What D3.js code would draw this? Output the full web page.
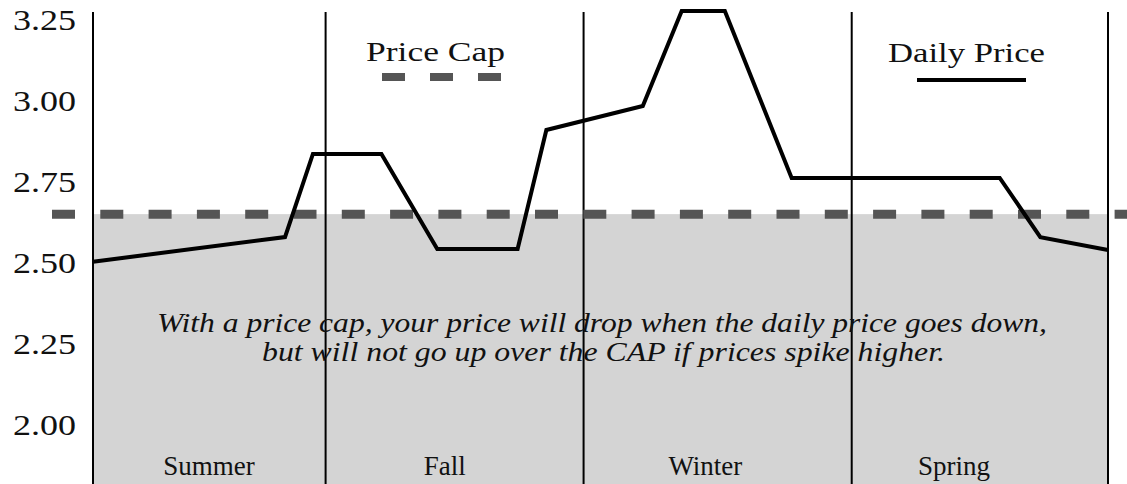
<!DOCTYPE html>
<html>
<head>
<meta charset="utf-8">
<script src="https://cdn.jsdelivr.net/npm/d3@7"></script>
<style>
  body { margin: 0; background: #fff; }
</style>
</head>
<body>
<div id="chart"></div>
<script>
// months since start of summer, and the daily price
var months = [0, 2.27, 2.60, 3.41, 4.07, 5.02, 5.36, 6.50, 6.96, 7.47, 8.26, 10.72, 11.20, 12];
var dailyPrice = [2.50, 2.576, 2.833, 2.833, 2.539, 2.539, 2.907, 2.981, 3.275, 3.275, 2.759, 2.759, 2.576, 2.536];
var priceCap = 2.647;

var seasons = ['Summer', 'Fall', 'Winter', 'Spring'];
var seasonBounds = [0, 2.75, 5.8, 8.97, 12];
var seasonLabelAt = [1.37, 4.16, 7.24, 10.18];

var yTicks = [3.25, 3.00, 2.75, 2.50, 2.25, 2.00];

var width = 1127;
var height = 484;
var serif = 'Liberation Serif, Times New Roman, serif';

var svg = d3.select('#chart')
    .append('svg')
    .attr('width', width)
    .attr('height', height);

var x = d3.scaleLinear()
    .domain([0, 12])
    .range([93, 1108]);

var y = d3.scaleLinear()
    .domain([2.00, 3.25])
    .range([423.5, 19]);

// grey area under the cap
svg.append('rect')
    .attr('x', x(0))
    .attr('y', y(priceCap))
    .attr('width', x(12) - x(0))
    .attr('height', height - y(priceCap))
    .attr('fill', '#d4d4d4');

// y labels
svg.append('g')
    .selectAll('text')
    .data(yTicks)
    .enter()
    .append('text')
    .attr('x', 76)
    .attr('y', (d) => y(d) + 11)
    .attr('text-anchor', 'end')
    .attr('font-family', serif)
    .attr('font-size', 30)
    .attr('textLength', 63)
    .attr('lengthAdjust', 'spacingAndGlyphs')
    .attr('fill', '#111')
    .text((d) => d.toFixed(2));

// season dividers
svg.append('g')
    .selectAll('line')
    .data(seasonBounds)
    .enter()
    .append('line')
    .attr('x1', (d) => x(d))
    .attr('x2', (d) => x(d))
    .attr('y1', 12)
    .attr('y2', height)
    .attr('stroke', '#000')
    .attr('stroke-width', 2);

// season names
svg.append('g')
    .selectAll('text')
    .data(seasons)
    .enter()
    .append('text')
    .attr('x', (d, i) => x(seasonLabelAt[i]))
    .attr('y', 475)
    .attr('text-anchor', 'middle')
    .attr('font-family', serif)
    .attr('font-size', 27)
    .attr('fill', '#111')
    .text((d) => d);

// cap line
svg.append('line')
    .attr('x1', 52)
    .attr('x2', width)
    .attr('y1', y(priceCap))
    .attr('y2', y(priceCap))
    .attr('stroke', '#555')
    .attr('stroke-width', 9)
    .attr('stroke-dasharray', '23,25.3');

// daily price line
var line = d3.line()
    .x((d, i) => x(months[i]))
    .y((d) => y(d));

svg.append('path')
    .datum(dailyPrice)
    .attr('d', line)
    .attr('fill', 'none')
    .attr('stroke', '#000')
    .attr('stroke-width', 4)
    .attr('stroke-linejoin', 'miter');

// legend
svg.append('text')
    .attr('x', 366)
    .attr('y', 61)
    .attr('font-family', serif)
    .attr('font-size', 27)
    .attr('textLength', 139)
    .attr('lengthAdjust', 'spacingAndGlyphs')
    .attr('fill', '#111')
    .text('Price Cap');

svg.append('line')
    .attr('x1', 382)
    .attr('x2', 503)
    .attr('y1', 77)
    .attr('y2', 77)
    .attr('stroke', '#555')
    .attr('stroke-width', 8)
    .attr('stroke-dasharray', '23,25');

svg.append('text')
    .attr('x', 888)
    .attr('y', 62)
    .attr('font-family', serif)
    .attr('font-size', 27)
    .attr('textLength', 157)
    .attr('lengthAdjust', 'spacingAndGlyphs')
    .attr('fill', '#111')
    .text('Daily Price');

svg.append('line')
    .attr('x1', 917)
    .attr('x2', 1026)
    .attr('y1', 80)
    .attr('y2', 80)
    .attr('stroke', '#000')
    .attr('stroke-width', 4);

// note
var note = [
    {text: 'With a price cap, your price will drop when the daily price goes down,', x: 157, y: 332, len: 890},
    {text: 'but will not go up over the CAP if prices spike higher.', x: 262, y: 361, len: 683}
];

svg.append('g')
    .selectAll('text')
    .data(note)
    .enter()
    .append('text')
    .attr('x', (d) => d.x)
    .attr('y', (d) => d.y)
    .attr('font-family', serif)
    .attr('font-style', 'italic')
    .attr('font-size', 27)
    .attr('textLength', (d) => d.len)
    .attr('lengthAdjust', 'spacingAndGlyphs')
    .attr('fill', '#111')
    .text((d) => d.text);
</script>
</body>
</html>
